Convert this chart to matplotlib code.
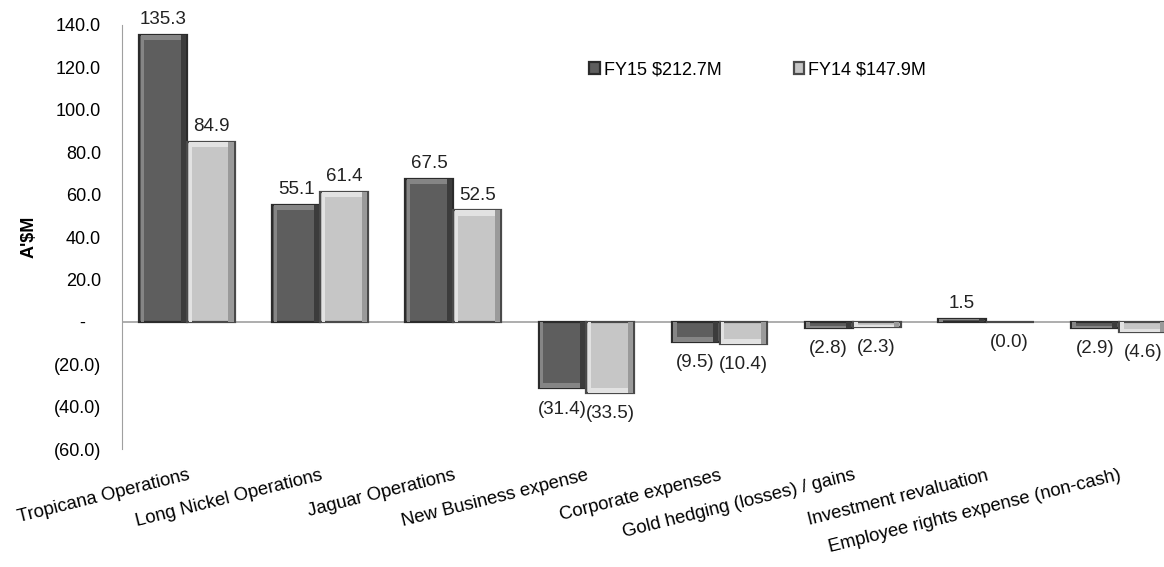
import matplotlib
matplotlib.use("Agg")
import matplotlib.pyplot as plt
import numpy as np

categories = ["Tropicana Operations", "Long Nickel Operations", "Jaguar Operations",
              "New Business expense", "Corporate expenses", "Gold hedging (losses) / gains",
              "Investment revaluation", "Employee rights expense (non-cash)"]
fy15 = [135.3, 55.1, 67.5, -31.4, -9.5, -2.8, 1.5, -2.9]
fy14 = [84.9, 61.4, 52.5, -33.5, -10.4, -2.3, -0.01, -4.6]
series_names = ["FY15 $212.7M", "FY14 $147.9M"]
yticks = [140, 120, 100, 80, 60, 40, 20, 0, -20, -40, -60]

plt.rcParams['font.family'] = ['Liberation Sans', 'DejaVu Sans']

fig = plt.figure(figsize=(11.64, 5.67), dpi=100)
ax = fig.add_axes([0.1048, 0.208, 0.8952, 0.748])

x = np.arange(len(categories))
w = 0.36
dark = "#5e5e5e"
light = "#c6c6c6"

def draw(xpos, vals, color, edge, hi, lo, label):
    ax.bar(xpos, vals, width=w, color=color, edgecolor=edge, linewidth=1.6,
           align='edge', label=label, zorder=3)
    for xp, v in zip(xpos, vals):
        if abs(v) < 0.5:
            continue
        ax.bar(xp + w - 0.05, v, width=0.04, align='edge', color=lo,
               linewidth=0, zorder=4)
        ax.bar(xp + 0.012, v, width=0.025, align='edge', color=hi,
               linewidth=0, zorder=4)
        h = min(2.5, abs(v) * 0.3)
        y0 = v - h if v > 0 else v
        ax.bar(xp + 0.03, h, bottom=y0, width=w - 0.08, align='edge',
               color=hi, linewidth=0, zorder=5)

draw(x - w, fy15, dark, "#2b2b2b", "#858585", "#3c3c3c", series_names[0])
draw(x, fy14, light, "#4a4a4a", "#e2e2e2", "#9a9a9a", series_names[1])

def fmt(v):
    return f"{v:.1f}" if v >= 0 else f"({abs(v):.1f})"

for i in range(len(categories)):
    for xp, v in ((x[i] - w / 2, fy15[i]), (x[i] + w / 2, fy14[i])):
        if v >= 0:
            ax.annotate(fmt(v), (xp, v), xytext=(0, 5), textcoords='offset points',
                        ha='center', va='bottom', fontsize=13.5, color='#222222')
        else:
            ax.annotate(fmt(v), (xp, v), xytext=(0, -9), textcoords='offset points',
                        ha='center', va='top', fontsize=13.5, color='#222222')

ax.set_xlim(-0.49, 7.34)
ax.set_ylim(-60, 140)
ax.set_yticks(yticks)
ax.set_yticklabels([fmt(t) if t != 0 else "-   " for t in yticks], fontsize=13)
ax.set_xticks(x)
ax.set_xticklabels(categories, rotation=14, ha='right', rotation_mode='anchor', fontsize=13.3)
ax.tick_params(axis='y', length=0, pad=15)
ax.tick_params(axis='x', length=0, pad=13)

for s in ['top', 'right', 'bottom']:
    ax.spines[s].set_visible(False)
ax.spines['left'].set_color('#a0a0a0')
ax.axhline(0, color='#a0a0a0', linewidth=1.2, zorder=2)

ax.set_ylabel("A'$M", fontsize=13, fontweight='bold', labelpad=12)

ax.legend(loc='center', bbox_to_anchor=(0.61, 0.894), ncol=2, frameon=False,
          handlelength=0.6, handleheight=0.6, handletextpad=0.2, columnspacing=4,
          fontsize=13)

fig.savefig("out.png", dpi=100)
